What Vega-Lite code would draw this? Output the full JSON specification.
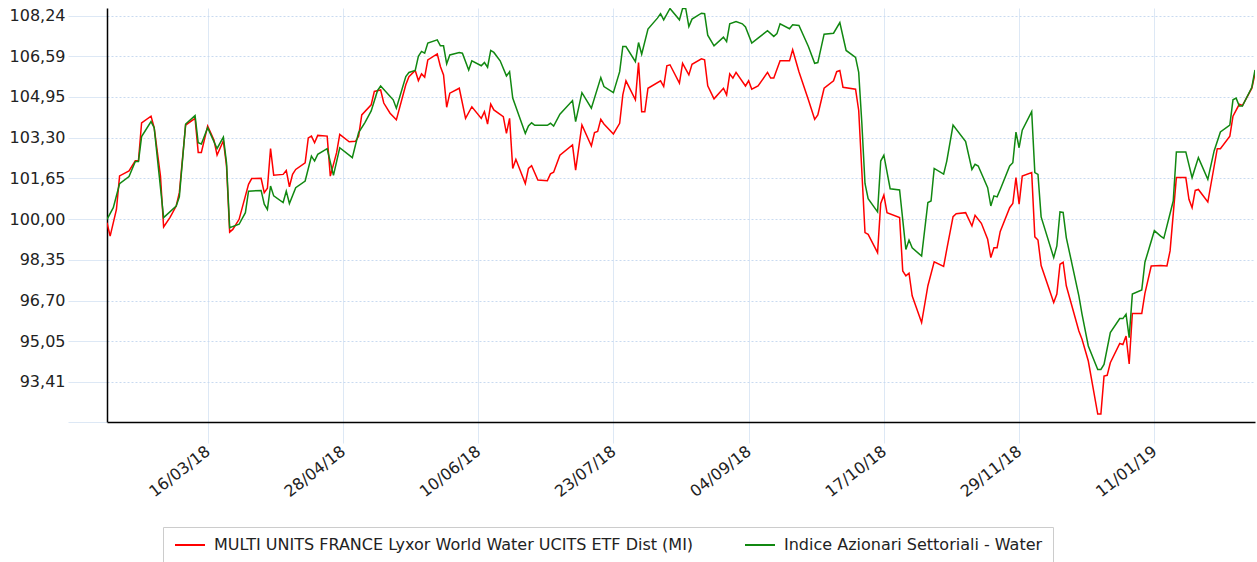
{
"$schema":"https://vega.github.io/schema/vega-lite/v6.json",
"width":1148,"height":414,
"autosize":{"type":"none"},
"padding":{"left":107,"top":8,"right":2,"bottom":140},
"background":"#ffffff",
"config":{"view":{"stroke":null}},
"data":{"values":[
{"d":"2018-02-12","s":"A","v":99.85},{"d":"2018-02-13","s":"A","v":99.31},{"d":"2018-02-15","s":"A","v":100.39},{"d":"2018-02-16","s":"A","v":101.75},{"d":"2018-02-19","s":"A","v":101.95},{"d":"2018-02-21","s":"A","v":102.36},{"d":"2018-02-22","s":"A","v":102.36},{"d":"2018-02-23","s":"A","v":103.90},{"d":"2018-02-26","s":"A","v":104.17},{"d":"2018-02-27","s":"A","v":103.70},
{"d":"2018-03-01","s":"A","v":101.74},{"d":"2018-03-02","s":"A","v":99.68},{"d":"2018-03-04","s":"A","v":100.06},{"d":"2018-03-06","s":"A","v":100.53},{"d":"2018-03-07","s":"A","v":101.07},{"d":"2018-03-09","s":"A","v":103.81},{"d":"2018-03-12","s":"A","v":104.08},{"d":"2018-03-13","s":"A","v":102.70},{"d":"2018-03-14","s":"A","v":102.70},{"d":"2018-03-16","s":"A","v":103.77},{"d":"2018-03-18","s":"A","v":103.20},{"d":"2018-03-19","s":"A","v":102.59},{"d":"2018-03-21","s":"A","v":103.17},{"d":"2018-03-22","s":"A","v":102.15},{"d":"2018-03-23","s":"A","v":99.47},{"d":"2018-03-24","s":"A","v":99.58},{"d":"2018-03-26","s":"A","v":99.99},{"d":"2018-03-29","s":"A","v":101.41},{"d":"2018-03-30","s":"A","v":101.64},
{"d":"2018-04-02","s":"A","v":101.65},{"d":"2018-04-03","s":"A","v":101.07},{"d":"2018-04-04","s":"A","v":101.25},{"d":"2018-04-05","s":"A","v":102.86},{"d":"2018-04-06","s":"A","v":101.78},{"d":"2018-04-09","s":"A","v":101.81},{"d":"2018-04-10","s":"A","v":101.97},{"d":"2018-04-11","s":"A","v":101.31},{"d":"2018-04-12","s":"A","v":101.81},{"d":"2018-04-13","s":"A","v":102.01},{"d":"2018-04-16","s":"A","v":102.28},{"d":"2018-04-17","s":"A","v":103.29},{"d":"2018-04-18","s":"A","v":103.36},{"d":"2018-04-19","s":"A","v":103.09},{"d":"2018-04-20","s":"A","v":103.39},{"d":"2018-04-23","s":"A","v":103.36},{"d":"2018-04-24","s":"A","v":101.74},{"d":"2018-04-26","s":"A","v":102.69},{"d":"2018-04-27","s":"A","v":103.43},{"d":"2018-04-30","s":"A","v":103.13},
{"d":"2018-05-02","s":"A","v":103.15},{"d":"2018-05-03","s":"A","v":103.36},{"d":"2018-05-04","s":"A","v":104.22},{"d":"2018-05-07","s":"A","v":104.63},{"d":"2018-05-08","s":"A","v":105.17},{"d":"2018-05-10","s":"A","v":105.23},{"d":"2018-05-11","s":"A","v":104.70},{"d":"2018-05-13","s":"A","v":104.29},{"d":"2018-05-15","s":"A","v":104.02},{"d":"2018-05-18","s":"A","v":105.44},{"d":"2018-05-19","s":"A","v":105.77},{"d":"2018-05-21","s":"A","v":106.02},{"d":"2018-05-22","s":"A","v":105.61},{"d":"2018-05-23","s":"A","v":105.88},{"d":"2018-05-24","s":"A","v":105.75},{"d":"2018-05-25","s":"A","v":106.45},{"d":"2018-05-28","s":"A","v":106.69},{"d":"2018-05-29","s":"A","v":106.18},{"d":"2018-05-30","s":"A","v":105.84},{"d":"2018-05-31","s":"A","v":104.53},
{"d":"2018-06-01","s":"A","v":105.10},{"d":"2018-06-04","s":"A","v":105.30},{"d":"2018-06-06","s":"A","v":104.08},{"d":"2018-06-08","s":"A","v":104.55},{"d":"2018-06-11","s":"A","v":104.08},{"d":"2018-06-12","s":"A","v":104.35},{"d":"2018-06-13","s":"A","v":103.85},{"d":"2018-06-14","s":"A","v":104.66},{"d":"2018-06-15","s":"A","v":104.42},{"d":"2018-06-18","s":"A","v":104.15},{"d":"2018-06-19","s":"A","v":103.47},{"d":"2018-06-20","s":"A","v":104.08},{"d":"2018-06-21","s":"A","v":102.05},{"d":"2018-06-22","s":"A","v":102.42},{"d":"2018-06-25","s":"A","v":101.44},{"d":"2018-06-26","s":"A","v":102.05},{"d":"2018-06-27","s":"A","v":102.16},{"d":"2018-06-29","s":"A","v":101.58},
{"d":"2018-07-02","s":"A","v":101.55},{"d":"2018-07-03","s":"A","v":101.83},{"d":"2018-07-04","s":"A","v":101.90},{"d":"2018-07-06","s":"A","v":102.59},{"d":"2018-07-10","s":"A","v":103.00},{"d":"2018-07-11","s":"A","v":101.98},{"d":"2018-07-13","s":"A","v":103.81},{"d":"2018-07-16","s":"A","v":102.96},{"d":"2018-07-17","s":"A","v":103.50},{"d":"2018-07-18","s":"A","v":103.55},{"d":"2018-07-19","s":"A","v":104.04},{"d":"2018-07-20","s":"A","v":103.85},{"d":"2018-07-23","s":"A","v":103.45},{"d":"2018-07-25","s":"A","v":103.88},{"d":"2018-07-26","s":"A","v":105.03},{"d":"2018-07-27","s":"A","v":105.60},{"d":"2018-07-30","s":"A","v":104.83},{"d":"2018-07-31","s":"A","v":106.34},
{"d":"2018-08-01","s":"A","v":104.35},{"d":"2018-08-02","s":"A","v":104.35},{"d":"2018-08-03","s":"A","v":105.30},{"d":"2018-08-07","s":"A","v":105.60},{"d":"2018-08-08","s":"A","v":105.37},{"d":"2018-08-09","s":"A","v":106.21},{"d":"2018-08-10","s":"A","v":106.25},{"d":"2018-08-13","s":"A","v":105.51},{"d":"2018-08-14","s":"A","v":106.31},{"d":"2018-08-16","s":"A","v":105.84},{"d":"2018-08-17","s":"A","v":106.27},{"d":"2018-08-20","s":"A","v":106.49},{"d":"2018-08-21","s":"A","v":106.45},{"d":"2018-08-22","s":"A","v":105.40},{"d":"2018-08-24","s":"A","v":104.87},{"d":"2018-08-27","s":"A","v":105.30},{"d":"2018-08-28","s":"A","v":105.03},{"d":"2018-08-29","s":"A","v":105.88},{"d":"2018-08-30","s":"A","v":105.71},{"d":"2018-08-31","s":"A","v":105.94},
{"d":"2018-09-03","s":"A","v":105.39},{"d":"2018-09-04","s":"A","v":105.60},{"d":"2018-09-05","s":"A","v":105.26},{"d":"2018-09-07","s":"A","v":105.39},{"d":"2018-09-10","s":"A","v":105.94},{"d":"2018-09-11","s":"A","v":105.71},{"d":"2018-09-12","s":"A","v":105.71},{"d":"2018-09-14","s":"A","v":106.41},{"d":"2018-09-17","s":"A","v":106.41},{"d":"2018-09-18","s":"A","v":106.86},{"d":"2018-09-20","s":"A","v":105.97},{"d":"2018-09-23","s":"A","v":104.83},{"d":"2018-09-25","s":"A","v":104.04},{"d":"2018-09-26","s":"A","v":104.22},{"d":"2018-09-28","s":"A","v":105.30},
{"d":"2018-10-01","s":"A","v":105.60},{"d":"2018-10-02","s":"A","v":105.97},{"d":"2018-10-03","s":"A","v":106.02},{"d":"2018-10-04","s":"A","v":105.34},{"d":"2018-10-08","s":"A","v":105.26},{"d":"2018-10-09","s":"A","v":104.40},{"d":"2018-10-11","s":"A","v":99.45},{"d":"2018-10-12","s":"A","v":99.38},{"d":"2018-10-15","s":"A","v":98.64},{"d":"2018-10-16","s":"A","v":100.63},{"d":"2018-10-17","s":"A","v":100.97},{"d":"2018-10-18","s":"A","v":100.26},{"d":"2018-10-22","s":"A","v":100.06},{"d":"2018-10-23","s":"A","v":97.90},{"d":"2018-10-24","s":"A","v":97.70},{"d":"2018-10-25","s":"A","v":97.81},{"d":"2018-10-26","s":"A","v":96.89},{"d":"2018-10-29","s":"A","v":95.81},{"d":"2018-10-31","s":"A","v":97.30},
{"d":"2018-11-02","s":"A","v":98.27},{"d":"2018-11-05","s":"A","v":98.08},{"d":"2018-11-06","s":"A","v":98.77},{"d":"2018-11-08","s":"A","v":100.10},{"d":"2018-11-09","s":"A","v":100.22},{"d":"2018-11-12","s":"A","v":100.26},{"d":"2018-11-14","s":"A","v":99.72},{"d":"2018-11-15","s":"A","v":100.15},{"d":"2018-11-17","s":"A","v":99.83},{"d":"2018-11-19","s":"A","v":99.18},{"d":"2018-11-20","s":"A","v":98.44},{"d":"2018-11-21","s":"A","v":98.84},{"d":"2018-11-22","s":"A","v":98.84},{"d":"2018-11-23","s":"A","v":99.50},{"d":"2018-11-26","s":"A","v":100.46},{"d":"2018-11-27","s":"A","v":100.63},{"d":"2018-11-28","s":"A","v":101.68},{"d":"2018-11-29","s":"A","v":100.60},{"d":"2018-11-30","s":"A","v":101.74},
{"d":"2018-12-03","s":"A","v":101.88},{"d":"2018-12-04","s":"A","v":99.28},{"d":"2018-12-05","s":"A","v":99.15},{"d":"2018-12-06","s":"A","v":98.12},{"d":"2018-12-10","s":"A","v":96.62},{"d":"2018-12-11","s":"A","v":96.96},{"d":"2018-12-12","s":"A","v":98.17},{"d":"2018-12-13","s":"A","v":98.25},{"d":"2018-12-14","s":"A","v":97.30},{"d":"2018-12-18","s":"A","v":95.47},{"d":"2018-12-19","s":"A","v":95.13},{"d":"2018-12-21","s":"A","v":94.25},{"d":"2018-12-24","s":"A","v":92.10},{"d":"2018-12-25","s":"A","v":92.10},{"d":"2018-12-26","s":"A","v":93.64},{"d":"2018-12-27","s":"A","v":93.67},{"d":"2018-12-28","s":"A","v":94.18},{"d":"2018-12-31","s":"A","v":94.96},
{"d":"2019-01-01","s":"A","v":94.92},{"d":"2019-01-02","s":"A","v":95.26},{"d":"2019-01-03","s":"A","v":94.13},{"d":"2019-01-04","s":"A","v":96.18},{"d":"2019-01-07","s":"A","v":96.18},{"d":"2019-01-08","s":"A","v":96.99},{"d":"2019-01-10","s":"A","v":98.10},{"d":"2019-01-13","s":"A","v":98.12},{"d":"2019-01-15","s":"A","v":98.10},{"d":"2019-01-16","s":"A","v":98.71},{"d":"2019-01-18","s":"A","v":101.68},{"d":"2019-01-21","s":"A","v":101.68},{"d":"2019-01-22","s":"A","v":100.80},{"d":"2019-01-23","s":"A","v":100.46},{"d":"2019-01-24","s":"A","v":101.16},{"d":"2019-01-25","s":"A","v":101.20},{"d":"2019-01-28","s":"A","v":100.69},{"d":"2019-01-31","s":"A","v":102.85},
{"d":"2019-02-01","s":"A","v":102.85},{"d":"2019-02-04","s":"A","v":103.36},{"d":"2019-02-05","s":"A","v":104.17},{"d":"2019-02-07","s":"A","v":104.65},{"d":"2019-02-08","s":"A","v":104.60},{"d":"2019-02-11","s":"A","v":105.30},{"d":"2019-02-12","s":"A","v":105.90},
{"d":"2018-02-12","s":"B","v":99.99},{"d":"2018-02-14","s":"B","v":100.46},{"d":"2018-02-16","s":"B","v":101.43},{"d":"2018-02-19","s":"B","v":101.72},{"d":"2018-02-21","s":"B","v":102.33},{"d":"2018-02-22","s":"B","v":102.33},{"d":"2018-02-23","s":"B","v":103.34},{"d":"2018-02-26","s":"B","v":103.95},{"d":"2018-02-27","s":"B","v":103.70},
{"d":"2018-03-02","s":"B","v":100.06},{"d":"2018-03-06","s":"B","v":100.53},{"d":"2018-03-07","s":"B","v":100.90},{"d":"2018-03-09","s":"B","v":103.85},{"d":"2018-03-12","s":"B","v":104.19},{"d":"2018-03-13","s":"B","v":103.09},{"d":"2018-03-14","s":"B","v":103.04},{"d":"2018-03-16","s":"B","v":103.70},{"d":"2018-03-19","s":"B","v":102.86},{"d":"2018-03-21","s":"B","v":103.32},{"d":"2018-03-22","s":"B","v":102.28},{"d":"2018-03-23","s":"B","v":99.65},{"d":"2018-03-26","s":"B","v":99.79},{"d":"2018-03-28","s":"B","v":100.26},{"d":"2018-03-29","s":"B","v":101.13},
{"d":"2018-04-02","s":"B","v":101.16},{"d":"2018-04-03","s":"B","v":100.60},{"d":"2018-04-04","s":"B","v":100.39},{"d":"2018-04-05","s":"B","v":101.34},{"d":"2018-04-06","s":"B","v":100.94},{"d":"2018-04-09","s":"B","v":100.67},{"d":"2018-04-10","s":"B","v":101.13},{"d":"2018-04-11","s":"B","v":100.63},{"d":"2018-04-13","s":"B","v":101.27},{"d":"2018-04-16","s":"B","v":101.54},{"d":"2018-04-18","s":"B","v":102.55},{"d":"2018-04-19","s":"B","v":102.35},{"d":"2018-04-20","s":"B","v":102.62},{"d":"2018-04-23","s":"B","v":102.85},{"d":"2018-04-25","s":"B","v":101.77},{"d":"2018-04-27","s":"B","v":102.89},
{"d":"2018-05-01","s":"B","v":102.49},{"d":"2018-05-02","s":"B","v":103.00},{"d":"2018-05-03","s":"B","v":103.50},{"d":"2018-05-05","s":"B","v":103.91},{"d":"2018-05-07","s":"B","v":104.38},{"d":"2018-05-09","s":"B","v":105.20},{"d":"2018-05-10","s":"B","v":105.39},{"d":"2018-05-14","s":"B","v":104.83},{"d":"2018-05-15","s":"B","v":104.49},{"d":"2018-05-18","s":"B","v":105.77},{"d":"2018-05-19","s":"B","v":105.94},{"d":"2018-05-21","s":"B","v":106.02},{"d":"2018-05-22","s":"B","v":106.59},{"d":"2018-05-23","s":"B","v":106.79},{"d":"2018-05-24","s":"B","v":106.72},{"d":"2018-05-25","s":"B","v":107.13},{"d":"2018-05-28","s":"B","v":107.26},{"d":"2018-05-29","s":"B","v":107.02},{"d":"2018-05-30","s":"B","v":107.02},{"d":"2018-05-31","s":"B","v":106.29},
{"d":"2018-06-01","s":"B","v":106.65},{"d":"2018-06-04","s":"B","v":106.75},{"d":"2018-06-05","s":"B","v":106.72},{"d":"2018-06-07","s":"B","v":106.04},{"d":"2018-06-08","s":"B","v":106.41},{"d":"2018-06-11","s":"B","v":106.21},{"d":"2018-06-12","s":"B","v":106.34},{"d":"2018-06-13","s":"B","v":106.15},{"d":"2018-06-14","s":"B","v":106.83},{"d":"2018-06-15","s":"B","v":106.75},{"d":"2018-06-17","s":"B","v":106.41},{"d":"2018-06-19","s":"B","v":105.80},{"d":"2018-06-20","s":"B","v":105.97},{"d":"2018-06-21","s":"B","v":104.90},{"d":"2018-06-25","s":"B","v":103.47},{"d":"2018-06-26","s":"B","v":103.77},{"d":"2018-06-27","s":"B","v":103.90},{"d":"2018-06-28","s":"B","v":103.80},
{"d":"2018-07-02","s":"B","v":103.80},{"d":"2018-07-03","s":"B","v":103.88},{"d":"2018-07-04","s":"B","v":103.77},{"d":"2018-07-06","s":"B","v":104.25},{"d":"2018-07-10","s":"B","v":104.80},{"d":"2018-07-11","s":"B","v":103.95},{"d":"2018-07-13","s":"B","v":105.12},{"d":"2018-07-16","s":"B","v":104.49},{"d":"2018-07-19","s":"B","v":105.73},{"d":"2018-07-20","s":"B","v":105.37},{"d":"2018-07-23","s":"B","v":105.12},{"d":"2018-07-25","s":"B","v":105.97},{"d":"2018-07-26","s":"B","v":106.99},{"d":"2018-07-27","s":"B","v":106.99},{"d":"2018-07-30","s":"B","v":106.38},{"d":"2018-07-31","s":"B","v":107.15},
{"d":"2018-08-01","s":"B","v":106.68},{"d":"2018-08-03","s":"B","v":107.70},{"d":"2018-08-06","s":"B","v":108.14},{"d":"2018-08-07","s":"B","v":108.32},{"d":"2018-08-08","s":"B","v":108.07},{"d":"2018-08-10","s":"B","v":108.53},{"d":"2018-08-13","s":"B","v":108.07},{"d":"2018-08-14","s":"B","v":108.53},{"d":"2018-08-15","s":"B","v":108.53},{"d":"2018-08-16","s":"B","v":107.80},{"d":"2018-08-17","s":"B","v":108.10},{"d":"2018-08-20","s":"B","v":108.34},{"d":"2018-08-21","s":"B","v":108.32},{"d":"2018-08-22","s":"B","v":107.45},{"d":"2018-08-24","s":"B","v":107.02},{"d":"2018-08-27","s":"B","v":107.37},{"d":"2018-08-28","s":"B","v":107.19},{"d":"2018-08-29","s":"B","v":107.91},{"d":"2018-08-31","s":"B","v":108.00},
{"d":"2018-09-02","s":"B","v":107.91},{"d":"2018-09-03","s":"B","v":107.78},{"d":"2018-09-05","s":"B","v":107.13},{"d":"2018-09-07","s":"B","v":107.33},{"d":"2018-09-10","s":"B","v":107.63},{"d":"2018-09-12","s":"B","v":107.40},{"d":"2018-09-13","s":"B","v":107.51},{"d":"2018-09-14","s":"B","v":107.91},{"d":"2018-09-17","s":"B","v":107.71},{"d":"2018-09-18","s":"B","v":107.87},{"d":"2018-09-20","s":"B","v":107.84},{"d":"2018-09-23","s":"B","v":106.99},{"d":"2018-09-25","s":"B","v":106.31},{"d":"2018-09-26","s":"B","v":106.34},{"d":"2018-09-28","s":"B","v":107.49},
{"d":"2018-10-01","s":"B","v":107.53},{"d":"2018-10-03","s":"B","v":107.96},{"d":"2018-10-05","s":"B","v":106.83},{"d":"2018-10-08","s":"B","v":106.55},{"d":"2018-10-09","s":"B","v":105.94},{"d":"2018-10-10","s":"B","v":103.88},{"d":"2018-10-11","s":"B","v":101.44},{"d":"2018-10-12","s":"B","v":100.83},{"d":"2018-10-15","s":"B","v":100.29},{"d":"2018-10-16","s":"B","v":102.35},{"d":"2018-10-17","s":"B","v":102.59},{"d":"2018-10-19","s":"B","v":101.23},{"d":"2018-10-22","s":"B","v":101.18},{"d":"2018-10-24","s":"B","v":98.77},{"d":"2018-10-25","s":"B","v":99.15},{"d":"2018-10-26","s":"B","v":98.84},{"d":"2018-10-29","s":"B","v":98.50},{"d":"2018-10-31","s":"B","v":100.67},
{"d":"2018-11-01","s":"B","v":100.73},{"d":"2018-11-02","s":"B","v":102.05},{"d":"2018-11-05","s":"B","v":101.82},{"d":"2018-11-06","s":"B","v":102.35},{"d":"2018-11-08","s":"B","v":103.81},{"d":"2018-11-12","s":"B","v":103.14},{"d":"2018-11-14","s":"B","v":102.01},{"d":"2018-11-15","s":"B","v":102.22},{"d":"2018-11-16","s":"B","v":102.15},{"d":"2018-11-19","s":"B","v":101.27},{"d":"2018-11-20","s":"B","v":100.53},{"d":"2018-11-21","s":"B","v":100.94},{"d":"2018-11-22","s":"B","v":100.90},{"d":"2018-11-23","s":"B","v":101.20},{"d":"2018-11-26","s":"B","v":102.15},{"d":"2018-11-27","s":"B","v":102.28},{"d":"2018-11-28","s":"B","v":103.52},{"d":"2018-11-29","s":"B","v":102.89},{"d":"2018-11-30","s":"B","v":103.60},
{"d":"2018-12-03","s":"B","v":104.35},{"d":"2018-12-04","s":"B","v":101.88},{"d":"2018-12-05","s":"B","v":101.81},{"d":"2018-12-06","s":"B","v":100.09},{"d":"2018-12-10","s":"B","v":98.44},{"d":"2018-12-11","s":"B","v":98.91},{"d":"2018-12-12","s":"B","v":100.29},{"d":"2018-12-13","s":"B","v":100.27},{"d":"2018-12-14","s":"B","v":99.25},{"d":"2018-12-18","s":"B","v":96.89},{"d":"2018-12-19","s":"B","v":96.15},{"d":"2018-12-21","s":"B","v":94.86},{"d":"2018-12-24","s":"B","v":93.91},{"d":"2018-12-25","s":"B","v":93.91},{"d":"2018-12-26","s":"B","v":94.11},{"d":"2018-12-28","s":"B","v":95.40},{"d":"2018-12-31","s":"B","v":95.97},
{"d":"2019-01-01","s":"B","v":95.97},{"d":"2019-01-02","s":"B","v":96.15},{"d":"2019-01-03","s":"B","v":95.20},{"d":"2019-01-04","s":"B","v":96.96},{"d":"2019-01-07","s":"B","v":97.13},{"d":"2019-01-08","s":"B","v":98.25},{"d":"2019-01-11","s":"B","v":99.53},{"d":"2019-01-13","s":"B","v":99.31},{"d":"2019-01-14","s":"B","v":99.22},{"d":"2019-01-17","s":"B","v":100.73},{"d":"2019-01-18","s":"B","v":102.72},{"d":"2019-01-21","s":"B","v":102.72},{"d":"2019-01-23","s":"B","v":101.68},{"d":"2019-01-25","s":"B","v":102.49},{"d":"2019-01-28","s":"B","v":101.61},{"d":"2019-01-30","s":"B","v":102.76},
{"d":"2019-02-01","s":"B","v":103.53},{"d":"2019-02-04","s":"B","v":103.81},{"d":"2019-02-05","s":"B","v":104.83},{"d":"2019-02-06","s":"B","v":104.90},{"d":"2019-02-07","s":"B","v":104.58},{"d":"2019-02-08","s":"B","v":104.58},{"d":"2019-02-11","s":"B","v":105.34},{"d":"2019-02-12","s":"B","v":106.04}
]},
"transform":[{"lookup":"s","from":{"data":{"values":[{"s":"A","name":"MULTI UNITS FRANCE Lyxor World Water UCITS ETF Dist (MI)"},{"s":"B","name":"Indice Azionari Settoriali - Water"}]},"key":"s","fields":["name"]}}],
"mark":{"type":"line","strokeWidth":1.5,"clip":true},
"encoding":{
"x":{"field":"d","type":"temporal","scale":{"type":"utc","domain":[{"year":2018,"month":2,"date":12,"utc":true},{"year":2019,"month":2,"date":12,"utc":true}]},
"axis":{"title":null,"values":[{"year":2018,"month":3,"date":16,"utc":true},{"year":2018,"month":4,"date":28,"utc":true},{"year":2018,"month":6,"date":10,"utc":true},{"year":2018,"month":7,"date":23,"utc":true},{"year":2018,"month":9,"date":4,"utc":true},{"year":2018,"month":10,"date":17,"utc":true},{"year":2018,"month":11,"date":29,"utc":true},{"year":2019,"month":1,"date":11,"utc":true}],
"labelExpr":"utcFormat(datum.value, '%d/%m/%y')","grid":true,"gridColor":"#dde8f5","gridWidth":1,"tickColor":"#dde8f5","tickSize":21,"tickWidth":1,"domainColor":"#000000","domainWidth":1.5,"labelAngle":-38,"labelAlign":"right","labelBaseline":"middle","labelPadding":6,"labelFont":"DejaVu Sans","labelFontSize":16,"labelColor":"#222222","labelOverlap":false,"labelFlush":false}},
"y":{"field":"v","type":"quantitative","scale":{"domain":[91.78,108.55],"nice":false,"zero":false},
"axis":{"title":null,"values":[91.78,93.41,95.05,96.70,98.35,100.00,101.65,103.30,104.95,106.59,108.24],"labelExpr":"datum.value < 92 ? '' : replace(format(datum.value, '.2f'), '.', ',')","grid":true,"gridColor":"#c9daf0","gridDash":[2,2],"gridWidth":1,"tickColor":"#dde8f5","tickSize":39,"tickWidth":1,"labelPadding":3,"domainColor":"#000000","domainWidth":1.5,"labelFont":"DejaVu Sans","labelFontSize":16,"labelColor":"#222222","labelOverlap":false,"labelFlush":false}},
"color":{"field":"name","type":"nominal","scale":{"domain":["MULTI UNITS FRANCE Lyxor World Water UCITS ETF Dist (MI)","Indice Azionari Settoriali - Water"],"range":["#ff0000","#118811"]},
"legend":{"orient":"none","legendX":56,"legendY":519,"direction":"horizontal","title":null,"symbolType":"M-0.86,0H3.43","symbolSize":196,"symbolStrokeWidth":2,"labelFont":"DejaVu Sans","labelFontSize":16,"labelColor":"#222222","labelOffset":25,"labelLimit":800,"columnPadding":46,"padding":10,"strokeColor":"#cccccc","fillColor":"#ffffff","cornerRadius":0}}
}
}
